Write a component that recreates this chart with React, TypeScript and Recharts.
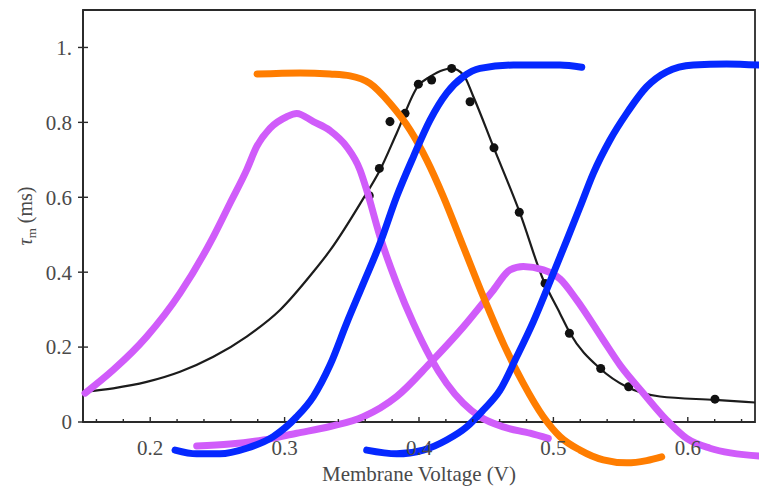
import React from 'react';
import { ComposedChart, Line, Scatter, XAxis, YAxis, Label, ReferenceArea } from 'recharts';

// ---- axis ticks ----
const X_TICKS = [0.16, 0.18, 0.2, 0.22, 0.24, 0.26, 0.28, 0.3, 0.32, 0.34, 0.36, 0.38, 0.4, 0.42, 0.44, 0.46, 0.48, 0.5, 0.52, 0.54, 0.56, 0.58, 0.6, 0.62, 0.64];
const Y_TICKS = [0, 0.2, 0.4, 0.6, 0.8, 1];

// ---- measured tau_m points (black dots) ----
const MEASURED = [
  { x: 0.363, y: 0.604 },
  { x: 0.3705, y: 0.677 },
  { x: 0.3784, y: 0.802 },
  { x: 0.3896, y: 0.824 },
  { x: 0.3995, y: 0.902 },
  { x: 0.4094, y: 0.913 },
  { x: 0.4243, y: 0.944 },
  { x: 0.438, y: 0.855 },
  { x: 0.4558, y: 0.732 },
  { x: 0.4746, y: 0.56 },
  { x: 0.4938, y: 0.37 },
  { x: 0.5119, y: 0.237 },
  { x: 0.5352, y: 0.143 },
  { x: 0.556, y: 0.094 },
  { x: 0.6202, y: 0.061 },
];

// ---- fitted curve (black line) ----
const FIT = [
  { x: 0.151, y: 0.081 },
  { x: 0.1725, y: 0.09 },
  { x: 0.1974, y: 0.107 },
  { x: 0.2222, y: 0.134 },
  { x: 0.247, y: 0.174 },
  { x: 0.2718, y: 0.228 },
  { x: 0.2966, y: 0.299 },
  { x: 0.3214, y: 0.401 },
  { x: 0.3338, y: 0.458 },
  { x: 0.3586, y: 0.597 },
  { x: 0.371, y: 0.673 },
  { x: 0.3834, y: 0.771 },
  { x: 0.3995, y: 0.898 },
  { x: 0.4082, y: 0.922 },
  { x: 0.4181, y: 0.94 },
  { x: 0.4243, y: 0.944 },
  { x: 0.433, y: 0.927 },
  { x: 0.4404, y: 0.869 },
  { x: 0.4553, y: 0.735 },
  { x: 0.4752, y: 0.557 },
  { x: 0.4925, y: 0.379 },
  { x: 0.5049, y: 0.29 },
  { x: 0.5124, y: 0.237 },
  { x: 0.5347, y: 0.143 },
  { x: 0.5545, y: 0.094 },
  { x: 0.5793, y: 0.068 },
  { x: 0.6202, y: 0.059 },
  { x: 0.65, y: 0.052 },
];

// ---- overlaid strokes ----
const MAGENTA_1 = [
  { x: 0.1515, y: 0.077 },
  { x: 0.1725, y: 0.139 },
  { x: 0.1974, y: 0.228 },
  { x: 0.2222, y: 0.344 },
  { x: 0.247, y: 0.495 },
  { x: 0.2594, y: 0.584 },
  { x: 0.2718, y: 0.673 },
  { x: 0.2792, y: 0.735 },
  { x: 0.2891, y: 0.784 },
  { x: 0.3016, y: 0.815 },
  { x: 0.309, y: 0.824 },
  { x: 0.3214, y: 0.802 },
  { x: 0.3338, y: 0.778 },
  { x: 0.3462, y: 0.735 },
  { x: 0.3561, y: 0.673 },
  { x: 0.3611, y: 0.619 },
  { x: 0.371, y: 0.495 },
  { x: 0.3834, y: 0.37 },
  { x: 0.3958, y: 0.264 },
  { x: 0.4082, y: 0.174 },
  { x: 0.4206, y: 0.103 },
  { x: 0.433, y: 0.05 },
  { x: 0.4454, y: 0.014 },
  { x: 0.4627, y: -0.013 },
  { x: 0.4826, y: -0.03 },
  { x: 0.4962, y: -0.044 },
];

const MAGENTA_2 = [
  { x: 0.2346, y: -0.064 },
  { x: 0.2594, y: -0.059 },
  { x: 0.2842, y: -0.048 },
  { x: 0.309, y: -0.03 },
  { x: 0.3338, y: -0.012 },
  { x: 0.3586, y: 0.014 },
  { x: 0.3834, y: 0.068 },
  { x: 0.4082, y: 0.157 },
  { x: 0.433, y: 0.254 },
  { x: 0.4553, y: 0.352 },
  { x: 0.4677, y: 0.406 },
  { x: 0.4776, y: 0.415 },
  { x: 0.4925, y: 0.406 },
  { x: 0.5049, y: 0.382 },
  { x: 0.5173, y: 0.326 },
  { x: 0.5371, y: 0.219 },
  { x: 0.5496, y: 0.152 },
  { x: 0.5669, y: 0.077 },
  { x: 0.5843, y: 0.005 },
  { x: 0.5992, y: -0.044 },
  { x: 0.6165, y: -0.07 },
  { x: 0.653, y: -0.091 },
];

const ORANGE = [
  { x: 0.2795, y: 0.929 },
  { x: 0.3115, y: 0.932 },
  { x: 0.3338, y: 0.929 },
  { x: 0.3487, y: 0.924 },
  { x: 0.3635, y: 0.904 },
  { x: 0.3784, y: 0.851 },
  { x: 0.3933, y: 0.78 },
  { x: 0.4057, y: 0.7 },
  { x: 0.4181, y: 0.602 },
  { x: 0.433, y: 0.468 },
  { x: 0.4478, y: 0.335 },
  { x: 0.4627, y: 0.21 },
  { x: 0.4776, y: 0.103 },
  { x: 0.4925, y: 0.014 },
  { x: 0.5049, y: -0.039 },
  { x: 0.5198, y: -0.075 },
  { x: 0.5371, y: -0.101 },
  { x: 0.5545, y: -0.109 },
  { x: 0.5694, y: -0.103 },
  { x: 0.5806, y: -0.093 },
];

const BLUE_1 = [
  { x: 0.2185, y: -0.075 },
  { x: 0.2346, y: -0.085 },
  { x: 0.2519, y: -0.085 },
  { x: 0.2718, y: -0.07 },
  { x: 0.2916, y: -0.039 },
  { x: 0.309, y: 0.014 },
  { x: 0.3214, y: 0.068 },
  { x: 0.3338, y: 0.152 },
  { x: 0.3462, y: 0.264 },
  { x: 0.3586, y: 0.37 },
  { x: 0.371, y: 0.477 },
  { x: 0.3834, y: 0.602 },
  { x: 0.3958, y: 0.708 },
  { x: 0.4082, y: 0.806 },
  { x: 0.4206, y: 0.878 },
  { x: 0.433, y: 0.922 },
  { x: 0.4454, y: 0.944 },
  { x: 0.4702, y: 0.953 },
  { x: 0.5049, y: 0.953 },
  { x: 0.5211, y: 0.947 },
];

const BLUE_2 = [
  { x: 0.3611, y: -0.075 },
  { x: 0.3834, y: -0.085 },
  { x: 0.4032, y: -0.075 },
  { x: 0.4206, y: -0.048 },
  { x: 0.4355, y: -0.013 },
  { x: 0.4478, y: 0.032 },
  { x: 0.4603, y: 0.085 },
  { x: 0.4727, y: 0.174 },
  { x: 0.4851, y: 0.268 },
  { x: 0.4975, y: 0.375 },
  { x: 0.5099, y: 0.485 },
  { x: 0.5198, y: 0.574 },
  { x: 0.5297, y: 0.664 },
  { x: 0.5421, y: 0.753 },
  { x: 0.5545, y: 0.824 },
  { x: 0.5694, y: 0.895 },
  { x: 0.5843, y: 0.935 },
  { x: 0.6041, y: 0.953 },
  { x: 0.6289, y: 0.956 },
  { x: 0.653, y: 0.953 },
];

const FONT = "'Liberation Serif', 'DejaVu Serif', serif";
const TEXT = '#4a4a4a';
const AXIS = '#2a2a2a';

const isMajor = (v: number) => Math.abs(v * 10 - Math.round(v * 10)) < 1e-6;

const BottomTick = (props: any) => {
  const { x, y, payload } = props;
  const v = payload.value as number;
  const major = isMajor(v);
  return (
    <g>
      <line x1={x} x2={x} y1={y} y2={y - (major ? 5 : 3)} stroke={AXIS} strokeWidth={1.4} />
      {major && (
        <text x={x} y={y + 33} textAnchor="middle" fontFamily={FONT} fontSize={21} fill={TEXT}>
          {v.toFixed(1)}
        </text>
      )}
    </g>
  );
};

const LeftTick = (props: any) => {
  const { x, y, payload } = props;
  const v = payload.value as number;
  const label = v === 0 ? '0' : v === 1 ? '1.' : v.toFixed(1);
  return (
    <g>
      <line x1={x - 5} x2={x + 5} y1={y} y2={y} stroke={AXIS} strokeWidth={1.4} />
      <text x={x - 11} y={y} dy="0.35em" textAnchor="end" fontFamily={FONT} fontSize={21} fill={TEXT}>
        {label}
      </text>
    </g>
  );
};

const RightTick = (props: any) => {
  const { x, y } = props;
  return <line x1={x} x2={x - 5} y1={y} y2={y} stroke={AXIS} strokeWidth={1.4} />;
};

const YLabel = (props: any) => {
  const vb = props.viewBox || { x: 0, y: 10, width: 83, height: 412 };
  const cx = vb.x + 32;
  const cy = vb.y + vb.height / 2;
  return (
    <text x={cx} y={cy} transform={`rotate(-90, ${cx}, ${cy})`} textAnchor="middle" fontFamily={FONT} fontSize={20} fill={TEXT}>
      <tspan fontStyle="italic">τ</tspan>
      <tspan fontSize={13} dy={4}>m</tspan>
      <tspan dy={-4}> (ms)</tspan>
    </text>
  );
};

const XLabel = (props: any) => {
  const vb = props.viewBox || { x: 83, y: 422, width: 672, height: 65 };
  return (
    <text x={vb.x + vb.width / 2} y={vb.y + 59} textAnchor="middle" fontFamily={FONT} fontSize={21} fill={TEXT}>
      Membrane Voltage (V)
    </text>
  );
};

export default function App() {
  return (
    <div style={{ position: 'absolute', left: 0, top: 0, width: 759, height: 487, background: '#fff' }}>
      <style>{'.recharts-wrapper [clip-path]{clip-path:none !important;}'}</style>
      <ComposedChart width={759} height={487} margin={{ top: 10, right: 4, bottom: 0, left: 0 }}>
        <XAxis
          xAxisId={0}
          dataKey="x"
          type="number"
          domain={[0.15, 0.65]}
          allowDataOverflow
          ticks={X_TICKS}
          interval={0}
          height={65}
          tickSize={0}
          tickMargin={0}
          tickLine={false}
          tick={<BottomTick />}
          axisLine={{ stroke: AXIS, strokeWidth: 1.8 }}
        >
          <Label content={<XLabel />} />
        </XAxis>
        <XAxis
          xAxisId="top"
          orientation="top"
          type="number"
          domain={[0.15, 0.65]}
          allowDataOverflow
          mirror
          height={0}
          tick={false}
          tickLine={false}
          axisLine={{ stroke: AXIS, strokeWidth: 1.8 }}
        />
        <YAxis
          yAxisId={0}
          dataKey="y"
          type="number"
          domain={[0, 1.1]}
          allowDataOverflow
          ticks={Y_TICKS}
          interval={0}
          width={83}
          tickSize={0}
          tickMargin={0}
          tickLine={false}
          tick={<LeftTick />}
          axisLine={{ stroke: AXIS, strokeWidth: 1.8 }}
        >
          <Label content={<YLabel />} />
        </YAxis>
        <YAxis
          yAxisId="right"
          orientation="right"
          type="number"
          domain={[0, 1.1]}
          allowDataOverflow
          ticks={Y_TICKS}
          interval={0}
          mirror
          width={0}
          tickSize={0}
          tickMargin={0}
          tickLine={false}
          tick={<RightTick />}
          axisLine={{ stroke: AXIS, strokeWidth: 1.8 }}
        />
        <ReferenceArea x1={0.15} x2={0.65} y1={0} y2={1.1} fill="none" fillOpacity={0} stroke={AXIS} strokeWidth={1.8} ifOverflow="visible" />
        <Line data={FIT} dataKey="y" type="monotone" stroke="#1c1c1c" strokeWidth={2.2} dot={false} isAnimationActive={false} />
        <Scatter data={MEASURED} dataKey="y" fill="#111" isAnimationActive={false} />
        <Line data={MAGENTA_1} dataKey="y" type="monotone" stroke="#D05CFA" strokeWidth={7} strokeLinecap="round" dot={false} isAnimationActive={false} {...({ zIndex: 600 } as any)} />
        <Line data={MAGENTA_2} dataKey="y" type="monotone" stroke="#D05CFA" strokeWidth={7} strokeLinecap="round" dot={false} isAnimationActive={false} {...({ zIndex: 601 } as any)} />
        <Line data={ORANGE} dataKey="y" type="monotone" stroke="#FF7D00" strokeWidth={7} strokeLinecap="round" dot={false} isAnimationActive={false} {...({ zIndex: 602 } as any)} />
        <Line data={BLUE_1} dataKey="y" type="monotone" stroke="#0528FF" strokeWidth={7} strokeLinecap="round" dot={false} isAnimationActive={false} {...({ zIndex: 603 } as any)} />
        <Line data={BLUE_2} dataKey="y" type="monotone" stroke="#0528FF" strokeWidth={7} strokeLinecap="round" dot={false} isAnimationActive={false} {...({ zIndex: 603 } as any)} />
      </ComposedChart>
    </div>
  );
}
